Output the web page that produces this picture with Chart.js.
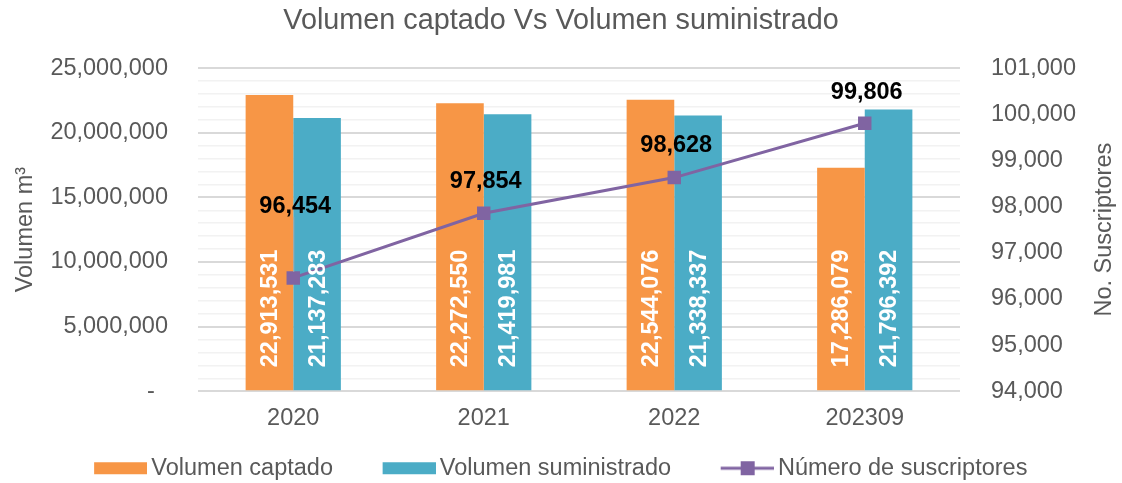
<!DOCTYPE html>
<html>
<head>
<meta charset="utf-8">
<title>Volumen captado Vs Volumen suministrado</title>
<script src="https://cdn.jsdelivr.net/npm/chart.js@4.4.1/dist/chart.umd.min.js"></script>
<style>
  html, body { margin: 0; padding: 0; background: #fff; }
  canvas { display: block; }
</style>
</head>
<body>
<canvas id="grafico" width="1122" height="483"></canvas>
<script>
// Datos
const categorias = ['2020', '2021', '2022', '202309'];
const volumenCaptado = [22913531, 22272550, 22544076, 17286079];
const volumenSuministrado = [21137283, 21419981, 21338337, 21796392];
const suscriptores = [96454, 97854, 98628, 99806];

// Ejes
const ticksVolumen = [0, 5000000, 10000000, 15000000, 20000000, 25000000];
const ticksSuscriptores = [94000, 95000, 96000, 97000, 98000, 99000, 100000, 101000];

const FUENTE = "'Liberation Sans', Arial, sans-serif";
const GRIS = '#595959';
const NARANJA = '#F79646';
const AZUL = '#4BACC6';
const MORADO = '#8064A2';

const fmt = v => v.toLocaleString('en-US');

// Iconos de la leyenda
function icono(tipo, color) {
  const c = document.createElement('canvas');
  c.width = 60;
  c.height = 16;
  const g = c.getContext('2d');
  if (tipo === 'barra') {
    g.fillStyle = color;
    g.fillRect(7, 2, 53, 12);
  } else {
    g.strokeStyle = color;
    g.lineWidth = 3;
    g.beginPath();
    g.moveTo(7, 8);
    g.lineTo(60, 8);
    g.stroke();
    g.fillStyle = color;
    g.fillRect(27, 1, 14, 14);
  }
  return c;
}
const iconos = [icono('barra', NARANJA), icono('barra', AZUL), icono('linea', MORADO)];
// espacios finales para separar los elementos de la leyenda
const relleno = ['    ', '    ', ''];

// Etiquetas de datos y titulo del eje derecho
const etiquetas = {
  id: 'etiquetas',
  afterDatasetsDraw(chart, args, opts) {
    const ctx = chart.ctx;
    [0, 1].forEach(i => {
      const meta = chart.getDatasetMeta(i);
      meta.data.forEach((bar, j) => {
        ctx.save();
        ctx.translate(bar.x, bar.base - opts.barPad);
        ctx.rotate(-Math.PI / 2);
        ctx.textAlign = 'left';
        ctx.textBaseline = 'middle';
        ctx.fillStyle = '#ffffff';
        ctx.font = 'bold 23.5px ' + FUENTE;
        ctx.fillText(fmt(chart.data.datasets[i].data[j]), 0, 1);
        ctx.restore();
      });
    });
    const meta = chart.getDatasetMeta(2);
    meta.data.forEach((pt, j) => {
      const dy = opts.lineOffsets[j];
      const y = pt.y - dy;
      if (dy > 40) {
        ctx.save();
        ctx.strokeStyle = '#a6a6a6';
        ctx.lineWidth = 1;
        ctx.beginPath();
        ctx.moveTo(pt.x + 0.5, y + 10);
        ctx.lineTo(pt.x + 0.5, pt.y - 6);
        ctx.stroke();
        ctx.restore();
      }
      ctx.save();
      ctx.textAlign = 'center';
      ctx.textBaseline = 'middle';
      ctx.fillStyle = '#000000';
      ctx.font = 'bold 23.5px ' + FUENTE;
      ctx.fillText(fmt(chart.data.datasets[2].data[j]), pt.x + 2, y);
      ctx.restore();
    });
  },
  afterDraw(chart, args, opts) {
    const ctx = chart.ctx;
    const area = chart.chartArea;
    ctx.save();
    ctx.translate(opts.rightTitleX, (area.top + area.bottom) / 2);
    ctx.rotate(-Math.PI / 2);
    ctx.textAlign = 'center';
    ctx.textBaseline = 'middle';
    ctx.fillStyle = GRIS;
    ctx.font = '23.5px ' + FUENTE;
    ctx.fillText(opts.rightTitle, 0, 0);
    ctx.restore();
  }
};

Chart.defaults.font.family = FUENTE;
Chart.defaults.font.size = 23.5;
Chart.defaults.color = GRIS;

new Chart(document.getElementById('grafico'), {
  type: 'bar',
  data: {
    labels: categorias,
    datasets: [
      {
        label: 'Volumen captado',
        data: volumenCaptado,
        backgroundColor: NARANJA,
        yAxisID: 'y',
        order: 1,
        categoryPercentage: 0.5,
        barPercentage: 1.0
      },
      {
        label: 'Volumen suministrado',
        data: volumenSuministrado,
        backgroundColor: AZUL,
        yAxisID: 'y',
        order: 1,
        categoryPercentage: 0.5,
        barPercentage: 1.0
      },
      {
        type: 'line',
        label: 'Número de suscriptores',
        data: suscriptores,
        borderColor: MORADO,
        backgroundColor: MORADO,
        borderWidth: 3,
        pointStyle: 'rect',
        pointRadius: 9.5,
        pointBorderWidth: 0,
        pointBackgroundColor: MORADO,
        yAxisID: 'y1',
        order: 0
      }
    ]
  },
  options: {
    responsive: false,
    animation: false,
    layout: { padding: { left: 0, right: 0, top: 0, bottom: -7 } },
    plugins: {
      tooltip: { enabled: false },
      title: {
        display: true,
        text: 'Volumen captado Vs Volumen suministrado',
        color: GRIS,
        font: { size: 28.8, weight: 'normal' },
        padding: { top: 3.5, bottom: 30 }
      },
      legend: {
        position: 'bottom',
        labels: {
          usePointStyle: true,
          pointStyleWidth: 45,
          boxHeight: 14,
          padding: 24,
          color: GRIS,
          font: { size: 23.5 },
          generateLabels: chart => chart.data.datasets.map((ds, i) => ({
            text: ds.label + relleno[i],
            pointStyle: iconos[i],
            fillStyle: ds.backgroundColor,
            strokeStyle: ds.backgroundColor,
            lineWidth: 0,
            hidden: false,
            datasetIndex: i,
            fontColor: GRIS
          }))
        }
      },
      etiquetas: {
        barPad: 23,
        lineOffsets: [71, 32, 32, 31],
        rightTitle: 'No. Suscriptores',
        rightTitleX: 1105
      }
    },
    scales: {
      x: {
        grid: { display: false, drawTicks: false },
        border: { display: false },
        ticks: { padding: 13, color: GRIS },
        afterFit: s => { s.height = 41.25; }
      },
      y: {
        position: 'left',
        min: ticksVolumen[0],
        max: ticksVolumen[ticksVolumen.length - 1],
        border: { display: false },
        grid: {
          drawTicks: false,
          color: c => (c.tick && c.tick.value % 5000000 === 0) ? '#d9d9d9' : '#f2f2f2',
          lineWidth: c => (c.tick && c.tick.value % 5000000 === 0) ? 2 : 1.5
        },
        ticks: {
          stepSize: 1000000,
          autoSkip: false,
          padding: 30,
          color: GRIS,
          callback: v => ticksVolumen.includes(v) ? (v === 0 ? '-  ' : fmt(v)) : ''
        },
        title: {
          display: true,
          text: 'Volumen m³',
          color: GRIS,
          font: { size: 23.5 },
          padding: { top: 11, bottom: 0 }
        },
        afterFit: s => { s.width = 198; }
      },
      y1: {
        position: 'right',
        min: ticksSuscriptores[0],
        max: ticksSuscriptores[ticksSuscriptores.length - 1],
        border: { display: false },
        grid: { display: false, drawTicks: false },
        ticks: {
          stepSize: 1000,
          autoSkip: false,
          padding: 31,
          color: GRIS,
          callback: v => fmt(v)
        },
        afterFit: s => { s.width = 162; }
      }
    }
  },
  plugins: [etiquetas]
});
</script>
</body>
</html>
